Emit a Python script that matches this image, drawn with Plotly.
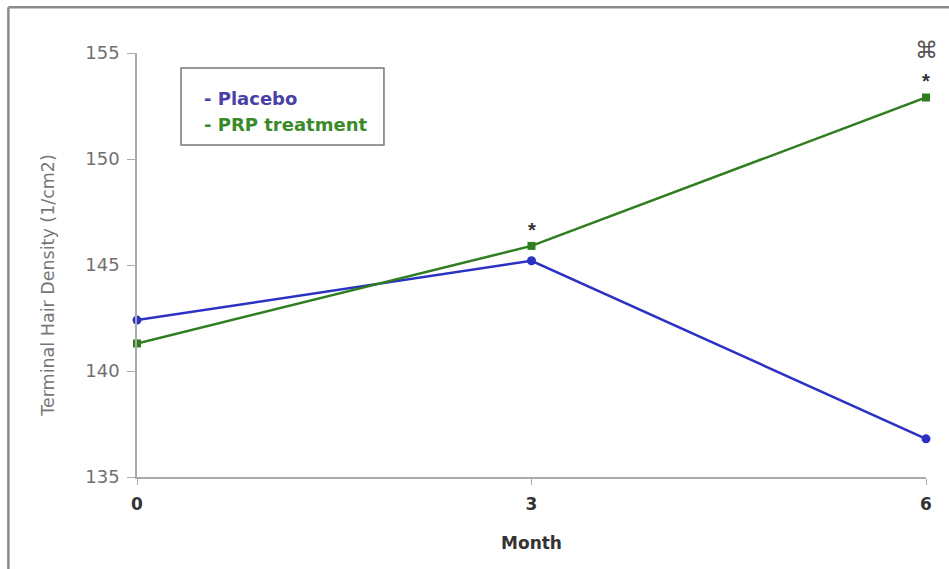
import plotly.graph_objects as go

# Study visits (months) and mean terminal hair density per group
months = [0, 3, 6]
placebo = [142.4, 145.2, 136.8]
prp = [141.3, 145.9, 152.9]
y_ticks = [135, 140, 145, 150, 155]
x_ticks = [0, 3, 6]

blue = "#2b31c2"
green = "#2e7d1f"

fig = go.Figure()
fig.add_trace(go.Scatter(
    x=months, y=placebo, name="Placebo", mode="lines+markers",
    line=dict(color=blue, width=2.5),
    marker=dict(symbol="circle", size=9, color=blue),
    cliponaxis=False,
))
fig.add_trace(go.Scatter(
    x=months, y=prp, name="PRP treatment", mode="lines+markers",
    line=dict(color=green, width=2.5),
    marker=dict(symbol="square", size=8, color=green),
    cliponaxis=False,
))

# significance markers above the PRP points
fig.add_annotation(x=3, y=prp[1], text="*", showarrow=False, yanchor="bottom",
                   yshift=3, font=dict(size=20, color="#333", family="Liberation Sans", weight="bold"))
fig.add_annotation(x=6, y=prp[2], text="*", showarrow=False, yanchor="bottom",
                   yshift=4, font=dict(size=20, color="#333", family="Liberation Sans", weight="bold"))
fig.add_annotation(x=6, y=prp[2], text="⌘", showarrow=False, yanchor="bottom",
                   yshift=33, font=dict(size=23, color="#555", family="DejaVu Sans"))

# legend box
fig.add_shape(type="rect", xref="paper", yref="paper",
              x0=0.0558, x1=0.313, y0=0.783, y1=0.9646,
              line=dict(color="#777", width=1.5), fillcolor="white")
fig.add_annotation(xref="paper", yref="paper", x=0.082, y=0.893, xanchor="left",
                   yanchor="middle", text="- Placebo", showarrow=False,
                   font=dict(size=18, color="#4a3fa6", family="DejaVu Sans", weight="bold"))
fig.add_annotation(xref="paper", yref="paper", x=0.082, y=0.832, xanchor="left",
                   yanchor="middle", text="- PRP treatment", showarrow=False,
                   font=dict(size=18, color="#3a8a2a", family="DejaVu Sans", weight="bold"))

# y axis title, set a little below the plot centre
fig.add_annotation(xref="paper", yref="paper", x=-0.113, y=0.453, textangle=-90,
                   xanchor="center", yanchor="middle", showarrow=False,
                   text="Terminal Hair Density (1/cm2)",
                   font=dict(size=17.5, color="#777", family="DejaVu Sans"))

# outer frame (top and left edges)
fig.add_shape(type="line", xref="paper", yref="paper",
              x0=-0.163, x1=1.03, y0=1.108, y1=1.108,
              line=dict(color="#8a8a8a", width=2.5))
fig.add_shape(type="line", xref="paper", yref="paper",
              x0=-0.163, x1=-0.163, y0=1.108, y1=-0.22,
              line=dict(color="#8a8a8a", width=2.5))

fig.update_layout(
    width=949, height=569,
    margin=dict(l=137, r=23, t=53, b=92),
    paper_bgcolor="white", plot_bgcolor="white",
    showlegend=False,
    xaxis=dict(
        range=[0, 6], tickvals=x_ticks, ticktext=[str(v) for v in x_ticks],
        showgrid=False, zeroline=False, showline=True, linecolor="#aaa", linewidth=1.5,
        ticks="outside", ticklen=6, tickcolor="#aaa", ticklabelstandoff=5,
        tickfont=dict(size=17, color="#333", family="DejaVu Sans", weight="bold"),
        title=dict(text="Month", standoff=24,
                   font=dict(size=17, color="#333", family="DejaVu Sans", weight="bold")),
    ),
    yaxis=dict(
        range=[135, 155], tickvals=y_ticks,
        showgrid=False, zeroline=False, showline=True, linecolor="#aaa", linewidth=1.5,
        ticks="outside", ticklen=8, tickcolor="#aaa", ticklabelstandoff=4,
        tickfont=dict(size=18, color="#707070", family="DejaVu Sans"),
    ),
)

fig.write_html("out.html")
